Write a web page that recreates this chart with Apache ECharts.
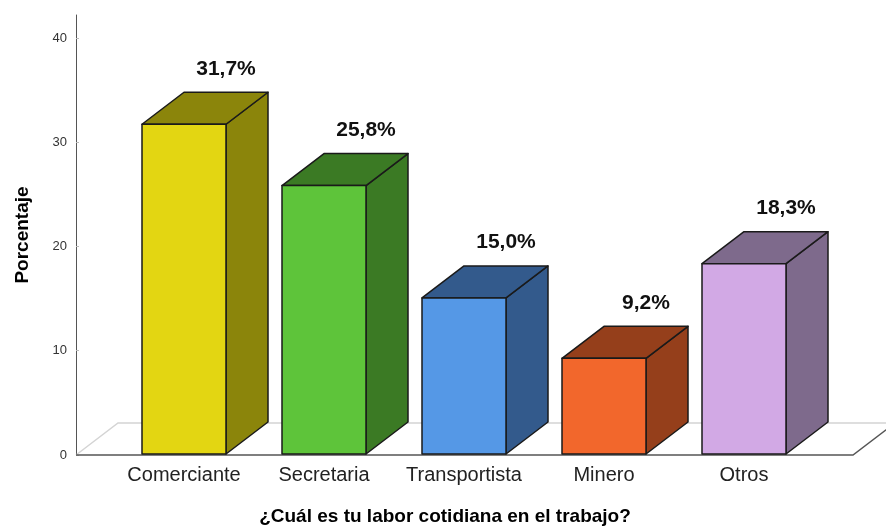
<!DOCTYPE html>
<html>
<head>
<meta charset="utf-8">
<script src="https://cdn.jsdelivr.net/npm/echarts@6/dist/echarts.min.js"></script>
<style>
  html, body { margin: 0; padding: 0; background: #fff; }
  #chart { width: 886px; height: 531px; }
</style>
</head>
<body>
<div id="chart"></div>
<script>
var categories = ['Comerciante', 'Secretaria', 'Transportista', 'Minero', 'Otros'];
var values = [31.7, 25.8, 15.0, 9.2, 18.3];
var frontColors = ['#e3d612', '#5ec43a', '#5598e6', '#f2672c', '#d2a9e5'];
var sideColors = ['#8b850b', '#3b7a24', '#335a8c', '#953f1b', '#7e6a8c'];
var yMax = 42.2;

// depth offset of the 3d boxes (px)
var DX = 42, DY = -32;
var font = "'Liberation Sans', Arial, sans-serif";

var chart = echarts.init(document.getElementById('chart'));

var option = {
  animation: false,
  grid: [
    { left: 114, right: 72, top: 15, bottom: 76 },
    { left: 76, right: 33, top: 15, bottom: 76 }
  ],
  xAxis: [{
    gridIndex: 0,
    type: 'category',
    data: categories,
    axisLine: { show: false },
    axisTick: { show: false },
    axisLabel: { interval: 0, fontFamily: font, fontSize: 20, color: '#222', margin: 11 },
    name: '¿Cuál es tu labor cotidiana en el trabajo?',
    nameLocation: 'middle',
    nameGap: 53,
    nameTextStyle: { fontFamily: font, fontSize: 19, fontWeight: 'bold', color: '#000', padding: [0, 38, 0, 0] }
  }, {
    gridIndex: 1,
    type: 'value',
    min: 0,
    max: 1,
    show: false
  }],
  yAxis: [{
    gridIndex: 0,
    type: 'value',
    min: 0,
    max: yMax,
    show: false
  }, {
    gridIndex: 1,
    type: 'value',
    min: 0,
    max: yMax,
    interval: 10,
    axisLine: { show: true, lineStyle: { color: '#555', width: 1 } },
    axisTick: { show: true, length: 3, inside: true, lineStyle: { color: '#bbb' } },
    splitLine: { show: false },
    axisLabel: { fontFamily: font, fontSize: 13, color: '#333', margin: 9, showMaxLabel: false },
    name: 'Porcentaje',
    nameLocation: 'middle',
    nameGap: 44,
    nameTextStyle: { fontFamily: font, fontSize: 19, fontWeight: 'bold', color: '#000' }
  }],
  series: [{
    // floor of the 3d plot
    type: 'custom',
    xAxisIndex: 1,
    yAxisIndex: 1,
    silent: true,
    z: 1,
    data: [[0, 0]],
    renderItem: function (params, api) {
      var cs = params.coordSys;
      var x0 = cs.x, x1 = cs.x + cs.width, yb = cs.y + cs.height;
      return {
        type: 'group',
        children: [
          { type: 'polyline', shape: { points: [[x0, yb], [x0 + DX, yb + DY], [x1 + DX, yb + DY]] },
            style: { stroke: '#d4d4d4', lineWidth: 1.5, fill: null } },
          { type: 'polyline', shape: { points: [[x0, yb], [x1, yb], [x1 + DX, yb + DY]] },
            style: { stroke: '#555', lineWidth: 1.5, fill: null } }
        ]
      };
    }
  }, {
    type: 'custom',
    xAxisIndex: 0,
    yAxisIndex: 0,
    z: 2,
    data: categories.map(function (c, i) { return [i, values[i]]; }),
    renderItem: function (params, api) {
      var i = params.dataIndex;
      var v = api.value(1);
      var top = api.coord([api.value(0), v]);
      var base = api.coord([api.value(0), 0]);
      var w = api.size([1, 0])[0] * 0.6;
      var xl = top[0] - w / 2, xr = top[0] + w / 2;
      var yt = top[1], yb = base[1];
      var edge = { stroke: '#1a1a1a', lineWidth: 1.5, lineJoin: 'round' };
      return {
        type: 'group',
        children: [
          { type: 'polygon',
            shape: { points: [[xr, yb], [xr + DX, yb + DY], [xr + DX, yt + DY], [xr, yt]] },
            style: Object.assign({ fill: sideColors[i] }, edge) },
          { type: 'polygon',
            shape: { points: [[xl, yt], [xl + DX, yt + DY], [xr + DX, yt + DY], [xr, yt]] },
            style: Object.assign({ fill: sideColors[i] }, edge) },
          { type: 'rect',
            shape: { x: xl, y: yt, width: w, height: yb - yt },
            style: Object.assign({ fill: frontColors[i] }, edge) },
          { type: 'text',
            x: top[0] + DX, y: yt + DY - 13,
            style: {
              text: v.toFixed(1).replace('.', ',') + '%',
              align: 'center', verticalAlign: 'bottom',
              font: 'bold 21px ' + font, fill: '#111'
            } }
        ]
      };
    }
  }]
};

chart.setOption(option);
</script>
</body>
</html>
